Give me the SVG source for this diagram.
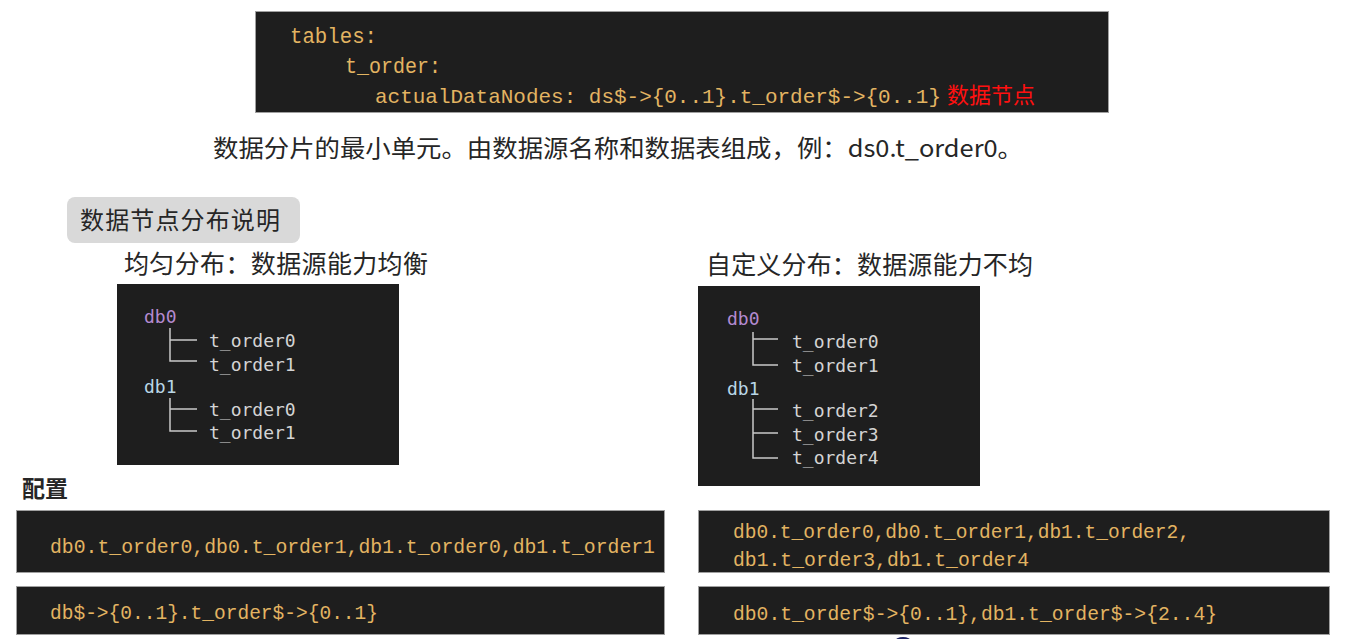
<svg xmlns="http://www.w3.org/2000/svg" width="1355" height="639" viewBox="0 0 1355 639">
<style>
.code{fill:#1e1e1e;stroke:#a0a0a0;stroke-width:1}
.gold{font-family:"Liberation Mono","DejaVu Sans Mono",monospace;fill:#e3b462}
.cjk{font-family:"Noto Sans CJK SC","Noto Sans",sans-serif;fill:#262626}
.tree{font-family:"DejaVu Sans Mono","Liberation Mono",monospace;font-size:18px;fill:#d4d4d4}
.db0{fill:#b48ad0}
.db1{fill:#b9d6e6}
.tl{stroke:#c9c9c9;stroke-width:1.5;fill:none}
</style>
<rect width="1355" height="639" fill="#ffffff"/>

<g id="top-code">
<rect class="code" x="255.5" y="11.5" width="853" height="101"/>
<text class="gold" x="290" y="43" font-size="22" textLength="87" lengthAdjust="spacingAndGlyphs">tables:</text>
<text class="gold" x="345" y="73" font-size="22" textLength="96" lengthAdjust="spacingAndGlyphs">t_order:</text>
<text class="gold" x="375" y="103" font-size="21" textLength="566" lengthAdjust="spacingAndGlyphs">actualDataNodes: ds$-&gt;{0..1}.t_order$-&gt;{0..1}</text>
<text x="947" y="103" font-size="22" fill="#ff1010" font-family="Noto Sans CJK SC,sans-serif">数据节点</text>
</g>

<g id="definition">
<text class="cjk" x="213" y="157" font-size="24" textLength="810" lengthAdjust="spacingAndGlyphs">数据分片的最小单元。由数据源名称和数据表组成，例：ds0.t_order0。</text>
</g>

<g id="section-label">
<rect x="67" y="197" width="233" height="46" rx="8" fill="#d9d9d9"/>
<text class="cjk" x="80" y="229" font-size="24" fill="#333333" textLength="200">数据节点分布说明</text>
</g>

<g id="uniform-title">
<text class="cjk" x="124" y="273" font-size="25" textLength="304">均匀分布：数据源能力均衡</text>
</g>

<g id="custom-title">
<text class="cjk" x="706" y="274" font-size="25" textLength="327">自定义分布：数据源能力不均</text>
</g>

<g id="uniform-tree">
<rect x="117" y="284" width="282" height="181" fill="#1e1e1e"/>
<text class="tree db0" x="144" y="323">db0</text>
<path class="tl" d="M170 328V361H197M170 340H197"/>
<text class="tree" x="209" y="347">t_order0</text>
<text class="tree" x="209" y="371">t_order1</text>
<text class="tree db1" x="144" y="393">db1</text>
<path class="tl" d="M170 398V431H197M170 409H197"/>
<text class="tree" x="209" y="416">t_order0</text>
<text class="tree" x="209" y="439">t_order1</text>
</g>

<g id="custom-tree">
<rect x="698" y="286" width="282" height="200" fill="#1e1e1e"/>
<text class="tree db0" x="727" y="325">db0</text>
<path class="tl" d="M753 332V365H778M753 339H778"/>
<text class="tree" x="792" y="348">t_order0</text>
<text class="tree" x="792" y="372">t_order1</text>
<text class="tree db1" x="727" y="395">db1</text>
<path class="tl" d="M753 399V458H778M753 409H778M753 433H778"/>
<text class="tree" x="792" y="417">t_order2</text>
<text class="tree" x="792" y="441">t_order3</text>
<text class="tree" x="792" y="464">t_order4</text>
</g>

<g id="config-label">
<text class="cjk" x="22" y="497" font-size="23" font-weight="bold" fill="#2a2a2a">配置</text>
</g>

<g id="uniform-list">
<rect class="code" x="16.5" y="510.5" width="648" height="62"/>
<text class="gold" x="50" y="553" font-size="21" textLength="605" lengthAdjust="spacingAndGlyphs">db0.t_order0,db0.t_order1,db1.t_order0,db1.t_order1</text>
</g>

<g id="uniform-expr">
<rect class="code" x="16.5" y="586.5" width="648" height="48"/>
<text class="gold" x="50" y="619" font-size="21" textLength="328" lengthAdjust="spacingAndGlyphs">db$-&gt;{0..1}.t_order$-&gt;{0..1}</text>
</g>

<g id="custom-list">
<rect class="code" x="698.5" y="510.5" width="631" height="62"/>
<text class="gold" x="733" y="538" font-size="21" textLength="457" lengthAdjust="spacingAndGlyphs">db0.t_order0,db0.t_order1,db1.t_order2,</text>
<text class="gold" x="733" y="566" font-size="21" textLength="296" lengthAdjust="spacingAndGlyphs">db1.t_order3,db1.t_order4</text>
</g>

<g id="custom-expr">
<rect class="code" x="698.5" y="586.5" width="631" height="48"/>
<text class="gold" x="733" y="620" font-size="21" textLength="484" lengthAdjust="spacingAndGlyphs">db0.t_order$-&gt;{0..1},db1.t_order$-&gt;{2..4}</text>
</g>

<g id="bottom-mark">
<ellipse cx="903" cy="641" rx="8" ry="4" fill="#1c2262"/>
</g>

<g id="connectors"></g>
</svg>
